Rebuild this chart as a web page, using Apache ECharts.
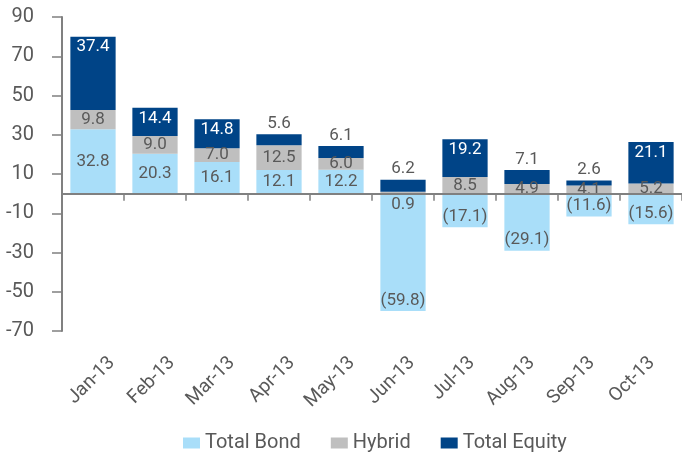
<!DOCTYPE html>
<html>
<head>
<meta charset="utf-8">
<script src="https://cdn.jsdelivr.net/npm/echarts@6/dist/echarts.min.js"></script>
<style>
  html, body { margin: 0; padding: 0; background: #fff; }
  #chart { width: 682px; height: 454px; }
</style>
</head>
<body>
<div id="chart"></div>
<script>
// categories and values
var months = ['Jan-13', 'Feb-13', 'Mar-13', 'Apr-13', 'May-13', 'Jun-13', 'Jul-13', 'Aug-13', 'Sep-13', 'Oct-13'];
var totalBond = [32.8, 20.3, 16.1, 12.1, 12.2, -59.8, -17.1, -29.1, -11.6, -15.6];
var hybrid = [9.8, 9.0, 7.0, 12.5, 6.0, 0.9, 8.5, 4.9, 4.1, 5.2];
var totalEquity = [37.4, 14.4, 14.8, 5.6, 6.1, 6.2, 19.2, 7.1, 2.6, 21.1];

var textGrey = '#595959';
var font = 'Roboto';

function fmt(v) {
  return v < 0 ? '(' + Math.abs(v).toFixed(1) + ')' : v.toFixed(1);
}

// label placement like the original: small segments get their label outside
var bondData = totalBond.map(function (v) {
  return { value: v, label: { position: v < 0 ? 'insideBottom' : 'inside', distance: 2 } };
});
var hybridData = hybrid.map(function (v) {
  return { value: v, label: v < 2 ? { position: 'bottom', distance: 3 } : { position: 'inside' } };
});
var equityData = totalEquity.map(function (v) {
  return v < 10
    ? { value: v, label: { position: 'top', distance: 2, color: textGrey } }
    : { value: v, label: { position: 'insideTop', distance: 2, color: '#fff' } };
});

var chart = echarts.init(document.getElementById('chart'));

var labelBase = {
  show: true,
  fontFamily: font,
  fontSize: 17,
  color: textGrey,
  formatter: function (p) { return fmt(p.value); }
};

var option = {
  animation: false,
  grid: [
    { left: 62, right: -2, top: 17, bottom: 123 },
    // month labels sit a little right of the bars, as in the original
    { left: 82, right: -22, top: 17, bottom: 123 }
  ],
  legend: {
    left: 178,
    top: 428,
    icon: 'rect',
    itemWidth: 17,
    itemHeight: 11,
    itemGap: 30,
    textStyle: { fontFamily: font, fontSize: 20, color: textGrey },
    data: ['Total Bond', 'Hybrid', 'Total Equity']
  },
  xAxis: [
    {
      type: 'category',
      gridIndex: 0,
      data: months,
      position: 'bottom',
      axisLine: { show: true, onZero: true, lineStyle: { color: '#808080', width: 2 } },
      axisTick: { show: true, length: 7, lineStyle: { color: '#808080', width: 1.5 } },
      axisLabel: { show: false },
      z: 5
    },
    {
      type: 'category',
      gridIndex: 1,
      data: months,
      position: 'bottom',
      axisLine: { show: false, onZero: false },
      axisTick: { show: false },
      axisLabel: {
        rotate: 45,
        margin: 29,
        fontFamily: font,
        fontSize: 19,
        color: textGrey
      }
    }
  ],
  yAxis: [
    {
      type: 'value',
      gridIndex: 0,
      min: -70,
      max: 90,
      interval: 20,
      axisLine: { show: true, lineStyle: { color: '#808080', width: 2 } },
      axisTick: { show: true, length: 10, lineStyle: { color: '#808080', width: 1.5 } },
      splitLine: { show: false },
      axisLabel: {
        margin: 28,
        fontFamily: font,
        fontSize: 20,
        color: textGrey
      }
    },
    {
      type: 'value',
      gridIndex: 1,
      min: -70,
      max: 90,
      show: false
    }
  ],
  series: [
    {
      name: 'Total Bond',
      type: 'bar',
      stack: 'flows',
      barCategoryGap: '27%',
      itemStyle: { color: '#a9def9' },
      label: labelBase,
      data: bondData
    },
    {
      name: 'Hybrid',
      type: 'bar',
      stack: 'flows',
      itemStyle: { color: '#bfbfbf' },
      label: labelBase,
      data: hybridData
    },
    {
      name: 'Total Equity',
      type: 'bar',
      stack: 'flows',
      itemStyle: { color: '#004487' },
      label: labelBase,
      data: equityData
    }
  ]
};

chart.setOption(option);
</script>
</body>
</html>
